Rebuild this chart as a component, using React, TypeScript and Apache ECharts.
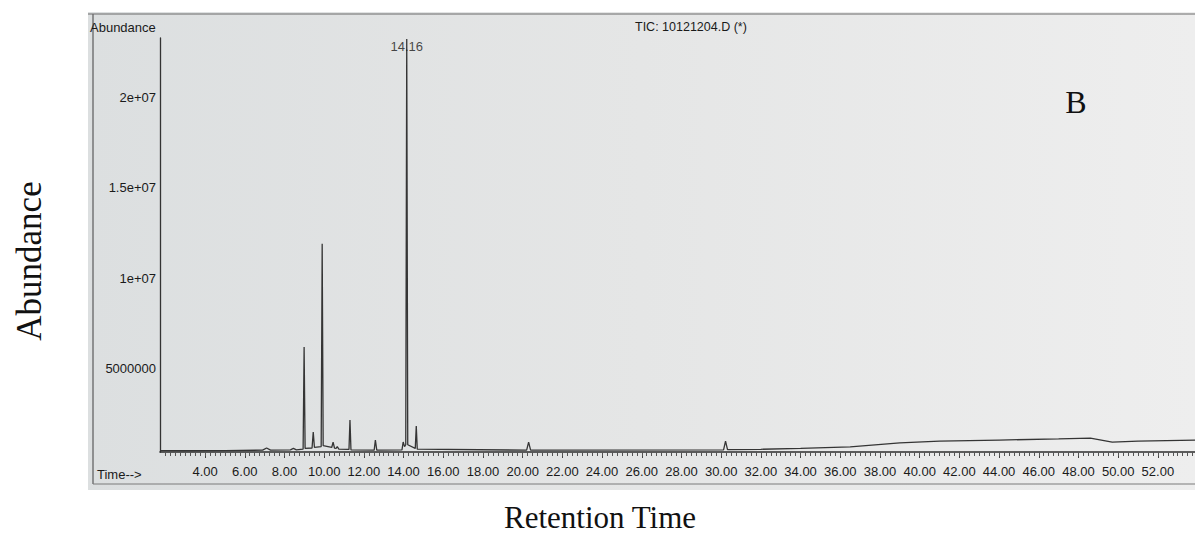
import React, { useEffect, useRef } from "react";
import * as echarts from "echarts";

// Total ion chromatogram, run 10121204.D — [retention time (min), abundance]
const ticTrace: [number, number][] = [
  [1.75, 480000],
  [3.0, 470000],
  [5.0, 480000],
  [6.9, 500000],
  [7.1, 620000],
  [7.3, 500000],
  [8.3, 520000],
  [8.45, 600000],
  [8.6, 520000],
  [8.94, 560000],
  [8.99, 6200000],
  [9.04, 600000],
  [9.39, 620000],
  [9.45, 1500000],
  [9.51, 650000],
  [9.85, 700000],
  [9.9, 11900000],
  [9.95, 750000],
  [10.38, 650000],
  [10.45, 950000],
  [10.52, 620000],
  [10.6, 600000],
  [10.66, 700000],
  [10.74, 560000],
  [11.25, 540000],
  [11.3, 2170000],
  [11.35, 520000],
  [12.52, 500000],
  [12.58, 1060000],
  [12.65, 500000],
  [13.92, 520000],
  [13.98, 950000],
  [14.05, 700000],
  [14.11, 800000],
  [14.16, 23200000],
  [14.21, 800000],
  [14.59, 600000],
  [14.64, 1830000],
  [14.69, 560000],
  [20.2, 500000],
  [20.3, 950000],
  [20.4, 500000],
  [30.12, 520000],
  [30.22, 1000000],
  [30.32, 530000],
  [32.0, 550000],
  [34.0, 600000],
  [36.5, 680000],
  [39.0, 900000],
  [41.0, 1000000],
  [44.0, 1060000],
  [47.0, 1120000],
  [48.6, 1170000],
  [49.7, 950000],
  [51.0, 1000000],
  [53.87, 1060000],
];

// Labelled apex
const labelledPeaks: [number, number][] = [[14.16, 23200000]];

// Axis ticks and labels
const timeLabels: number[] = [4, 6, 8, 10, 12, 14, 16, 18, 20, 22, 24, 26, 28, 30, 32, 34, 36, 38, 40, 42, 44, 46, 48, 50, 52];
const abundanceTicks: number[] = [5000000, 10000000, 15000000, 20000000];
const abundanceTickLabels: string[] = ["5000000", "1e+07", "1.5e+07", "2e+07"];

const TIME_MIN = 1.73;
const TIME_MAX = 53.87;
const ABUND_MIN = 400000;
const ABUND_MAX = 23260000;

const minorTimeTicks: number[] = Array.from({ length: 208 }, (_, i) => 2 + i * 0.25).filter(
  (v) => v <= TIME_MAX
);

const SANS = "'Liberation Sans', Arial, Helvetica, sans-serif";
const SERIF = "'Liberation Serif', 'Times New Roman', serif";

export default function App() {
  const ref = useRef<HTMLDivElement>(null);

  useEffect(() => {
    if (!ref.current) return;
    const chart = echarts.init(ref.current, undefined, { renderer: "svg" });

    chart.setOption({
      animation: false,
      backgroundColor: "#ffffff",
      grid: { left: 160, top: 38, right: 0, bottom: 83, containLabel: false },
      xAxis: [
        {
          type: "value",
          min: TIME_MIN,
          max: TIME_MAX,
          axisLine: { show: true, lineStyle: { color: "#2c2c2c", width: 1.6 } },
          axisTick: {
            show: true,
            customValues: timeLabels,
            length: 6,
            lineStyle: { color: "#444", width: 1 },
          },
          axisLabel: {
            show: true,
            customValues: timeLabels,
            formatter: (v: number) => v.toFixed(2),
            margin: 13,
            fontSize: 13,
            color: "#1a1a1a",
            fontFamily: SANS,
          },
          splitLine: { show: false },
        },
        {
          type: "value",
          min: TIME_MIN,
          max: TIME_MAX,
          position: "bottom",
          axisLine: { show: false },
          axisTick: {
            show: true,
            customValues: minorTimeTicks,
            length: 4,
            lineStyle: { color: "#555", width: 1 },
          },
          axisLabel: { show: false },
          splitLine: { show: false },
        },
      ],
      yAxis: {
        type: "value",
        min: ABUND_MIN,
        max: ABUND_MAX,
        axisLine: { show: true, lineStyle: { color: "#333", width: 1.3 } },
        axisTick: { show: false },
        axisLabel: {
          customValues: abundanceTicks,
          formatter: (v: number) => {
            const i = abundanceTicks.indexOf(v);
            return i >= 0 ? abundanceTickLabels[i] : "";
          },
          margin: 4,
          fontSize: 13,
          color: "#1a1a1a",
          fontFamily: SANS,
        },
        splitLine: { show: false },
      },
      series: [
        {
          type: "line",
          data: ticTrace,
          showSymbol: false,
          symbol: "none",
          lineStyle: { color: "#353535", width: 1.3 },
          z: 3,
        },
        {
          type: "scatter",
          data: labelledPeaks,
          symbolSize: 0,
          label: {
            show: true,
            position: "bottom",
            distance: 1,
            formatter: (p: any) => p.value[0].toFixed(2),
            fontSize: 13,
            color: "#1a1a1a",
            fontFamily: SANS,
          },
          z: 4,
        },
      ],
      graphic: {
        elements: [
          {
            type: "rect",
            z: -10,
            shape: { x: 88, y: 12, width: 1107, height: 478 },
            style: {
              fill: new echarts.graphic.LinearGradient(0, 0, 1, 0, [
                { offset: 0, color: "#dcdfe0" },
                { offset: 0.5, color: "#e5e6e6" },
                { offset: 1, color: "#eeeeee" },
              ]),
            },
          },
          {
            type: "line",
            z: -5,
            shape: { x1: 93, y1: 14, x2: 93, y2: 484 },
            style: { stroke: "#5a5a5a", lineWidth: 1.2 },
          },
          {
            type: "line",
            z: -5,
            shape: { x1: 88, y1: 14, x2: 1195, y2: 14 },
            style: { stroke: "#6a6a6a", lineWidth: 1.2 },
          },
          {
            type: "line",
            z: -5,
            shape: { x1: 93, y1: 484, x2: 1195, y2: 484 },
            style: { stroke: "#7a7a7a", lineWidth: 1 },
          },
          {
            type: "text",
            left: 90,
            top: 21,
            style: { text: "Abundance", fontSize: 13, fill: "#1a1a1a", fontFamily: SANS },
          },
          {
            type: "text",
            left: 635,
            top: 20,
            style: { text: "TIC: 10121204.D (*)", fontSize: 12.5, fill: "#1a1a1a", fontFamily: SANS },
          },
          {
            type: "text",
            left: 97,
            top: 468,
            style: { text: "Time-->", fontSize: 13, fill: "#1a1a1a", fontFamily: SANS },
          },
          {
            type: "text",
            x: 1076,
            y: 102,
            style: {
              text: "B",
              fontSize: 32,
              fill: "#111",
              fontFamily: SERIF,
              align: "center",
              verticalAlign: "middle",
            },
          },
          {
            type: "text",
            x: 29,
            y: 261,
            rotation: Math.PI / 2,
            style: {
              text: "Abundance",
              fontSize: 35,
              fill: "#111",
              fontFamily: SERIF,
              align: "center",
              verticalAlign: "middle",
            },
          },
          {
            type: "text",
            x: 600,
            y: 517,
            style: {
              text: "Retention Time",
              fontSize: 31,
              fill: "#111",
              fontFamily: SERIF,
              align: "center",
              verticalAlign: "middle",
            },
          },
        ],
      },
    });

    return () => chart.dispose();
  }, []);

  return (
    <div
      ref={ref}
      style={{ position: "fixed", left: 0, top: 0, width: 1195, height: 535 }}
    />
  );
}
